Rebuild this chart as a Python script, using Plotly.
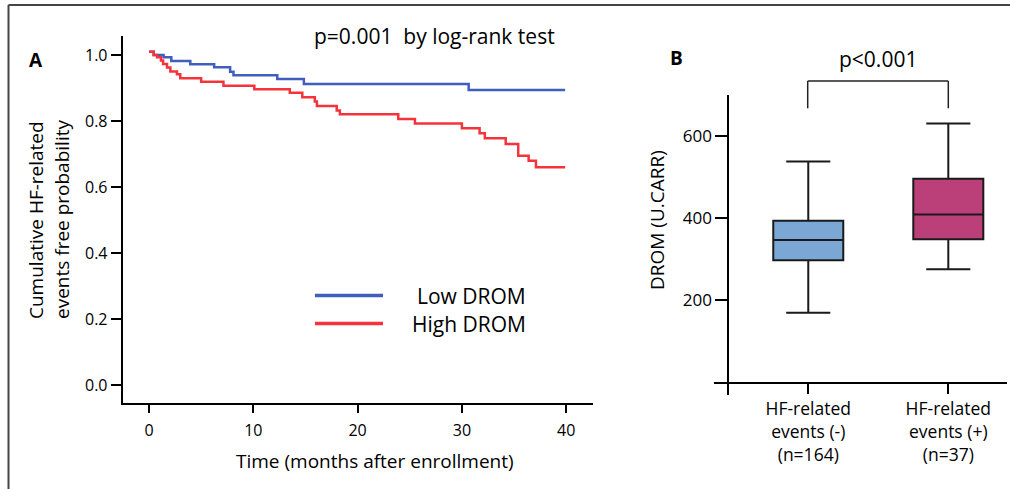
import plotly.graph_objects as go

# ---------------- data ----------------
# Panel A: Kaplan-Meier step curves (time in months, survival probability)
low_t = [0, 0.45, 1.4, 2.14, 3.96, 6.25, 7.78, 8.1, 12.3, 14.85, 30.65, 39.9]
low_s = [1.010, 1.000, 0.993, 0.982, 0.972, 0.963, 0.949, 0.939, 0.927, 0.912, 0.894, 0.894]

high_t = [0, 0.45, 0.77, 1.15, 1.35, 1.73, 2.05, 2.68, 3.0, 5.0, 7.14, 10.1, 13.5,
          14.7, 15.9, 16.1, 18.0, 18.3, 23.9, 25.5, 30.0, 31.7, 32.2, 34.2, 35.4,
          36.4, 37.1, 39.9]
high_s = [1.010, 1.000, 0.993, 0.983, 0.973, 0.962, 0.950, 0.942, 0.930, 0.919, 0.907,
          0.896, 0.886, 0.872, 0.859, 0.846, 0.832, 0.821, 0.806, 0.793, 0.778, 0.763,
          0.748, 0.731, 0.695, 0.680, 0.660, 0.660]

series_names = ["Low DROM", "High DROM"]
x_ticks_a = [0, 10, 20, 30, 40]
y_ticks_a = [0.0, 0.2, 0.4, 0.6, 0.8, 1.0]

# Panel B: box plot statistics
box_labels = ["HF-related<br>events (-)<br>(n=164)", "HF-related<br>events (+)<br>(n=37)"]
box_pos = [0, 1]
box_q1 = [297, 348]
box_median = [346, 408]
box_q3 = [393, 495]
box_lower = [169, 275]
box_upper = [537, 630]
y_ticks_b = [200, 400, 600]

# ---------------- styles ----------------
W, H = 1010, 489
FONT = "Open Sans"
BLUE = "#3F5EBE"
RED = "#F5333B"
BOX_COLORS = ["#7BA7D5", "#BB3F78"]


def px(x):
    return x / W


def py(y):
    return 1 - y / H


fig = go.Figure()

fig.add_trace(go.Scatter(x=low_t, y=low_s, mode="lines", line_shape="hv",
                         line=dict(color=BLUE, width=2.5), name=series_names[0],
                         xaxis="x", yaxis="y", showlegend=False))
fig.add_trace(go.Scatter(x=high_t, y=high_s, mode="lines", line_shape="hv",
                         line=dict(color=RED, width=2.5), name=series_names[1],
                         xaxis="x", yaxis="y", showlegend=False))

for i in range(len(box_pos)):
    fig.add_trace(go.Box(
        x=[box_pos[i]], q1=[box_q1[i]], median=[box_median[i]], q3=[box_q3[i]],
        lowerfence=[box_lower[i]], upperfence=[box_upper[i]],
        width=0.5, whiskerwidth=0.63, fillcolor=BOX_COLORS[i],
        line=dict(color="#1a1a1a", width=2), boxpoints=False,
        xaxis="x2", yaxis="y2", showlegend=False))

axis_common = dict(showgrid=False, zeroline=False, showline=True, linecolor="black",
                   linewidth=2, ticks="outside", tickwidth=2, tickcolor="black")

fig.update_layout(
    width=W, height=H,
    margin=dict(l=0, r=0, t=0, b=0),
    paper_bgcolor="white", plot_bgcolor="white",
    font=dict(family=FONT, color="black"),
    xaxis=dict(domain=[px(122.7), px(593)], range=[-2.52, 42.57], anchor="y",
               tickvals=x_ticks_a, ticklen=8, tickfont=dict(size=16),
               ticklabelstandoff=3, **axis_common),
    yaxis=dict(domain=[py(403.3), py(36)], range=[-0.054, 1.0575], anchor="x",
               tickvals=y_ticks_a, tickformat=".1f", ticklen=10,
               tickfont=dict(size=16), **axis_common),
    xaxis2=dict(domain=[px(714.3), px(1006.7)], range=[-0.671, 1.417], anchor="free",
                position=py(383.3), tickvals=box_pos, ticktext=box_labels, ticklen=10,
                tickfont=dict(size=17.5), **axis_common),
    yaxis2=dict(domain=[py(395), py(95)], range=[-31.3, 699.1], anchor="free",
                position=px(728.3), tickvals=y_ticks_b, ticklen=12,
                tickfont=dict(size=17), **axis_common),
)

shapes = []
# outer frame (top and left)
shapes.append(dict(type="line", xref="paper", yref="paper", x0=px(8.5), x1=1,
                   y0=py(5), y1=py(5), line=dict(color="#444", width=2)))
shapes.append(dict(type="line", xref="paper", yref="paper", x0=px(8.5), x1=px(8.5),
                   y0=py(5), y1=0, line=dict(color="#444", width=2)))
# legend keys
shapes.append(dict(type="line", xref="paper", yref="paper", x0=px(315), x1=px(383),
                   y0=py(295.5), y1=py(295.5), line=dict(color=BLUE, width=3.5)))
shapes.append(dict(type="line", xref="paper", yref="paper", x0=px(315), x1=px(383),
                   y0=py(323.5), y1=py(323.5), line=dict(color=RED, width=3.5)))
# significance bracket
for seg in [((807.7, 108.3), (807.7, 81)), ((807.7, 81), (948.3, 81)), ((948.3, 81), (948.3, 108.3))]:
    shapes.append(dict(type="line", xref="paper", yref="paper",
                       x0=px(seg[0][0]), y0=py(seg[0][1]), x1=px(seg[1][0]), y1=py(seg[1][1]),
                       line=dict(color="#222", width=1.5)))
fig.update_layout(shapes=shapes)

ann = []


def text(x, y, s, size, xanchor="center", angle=0, bold=False):
    ann.append(dict(x=px(x), y=py(y), xref="paper", yref="paper", text=("<b>%s</b>" % s) if bold else s,
                    showarrow=False, xanchor=xanchor, yanchor="middle", textangle=angle,
                    font=dict(size=size, family=FONT, color="black")))


text(35.5, 60, "A", 19, bold=True)
text(676, 58, "B", 19, bold=True)
text(434, 36, "p=0.001&nbsp;&nbsp;by log-rank test", 21)
text(878, 59, "p&lt;0.001", 21)
text(528, 296, series_names[0], 21, xanchor="right")
text(528, 324, series_names[1], 21, xanchor="right")
text(375, 461, "Time (months after enrollment)", 19)
text(36, 220, "Cumulative HF-related", 19, angle=-90)
text(62, 220, "events free probability", 19, angle=-90)
text(657, 220, "DROM (U.CARR)", 19, angle=-90)
fig.update_layout(annotations=ann)

fig.write_html("out.html")
